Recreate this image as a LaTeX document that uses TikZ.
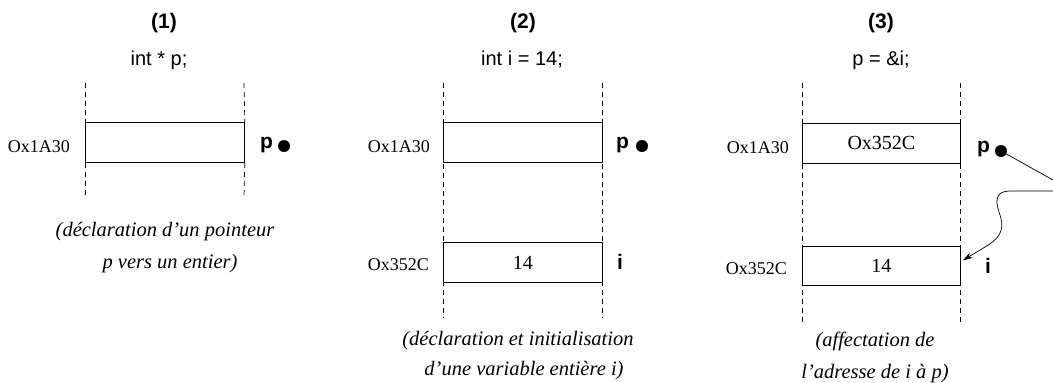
\documentclass[tikz,border=0pt]{standalone}
\usepackage{fontspec}
\setmainfont{Liberation Serif}
\setsansfont{Liberation Sans}
\usetikzlibrary{arrows.meta}
\begin{document}
\begin{tikzpicture}[x=1pt,y=-1pt,
 mem/.style={draw, line width=0.8pt, minimum width=159pt, minimum height=40pt, inner sep=0pt, anchor=north west, font=\fontsize{20}{24}\selectfont},
 addr/.style={inner sep=0pt, anchor=base east, font=\fontsize{18}{22}\selectfont},
 var/.style={inner sep=0pt, anchor=base west, font=\sffamily\bfseries\fontsize{21}{25}\selectfont},
 head/.style={inner sep=0pt, anchor=base, font=\sffamily\bfseries\fontsize{21}{25}\selectfont},
 code/.style={inner sep=0pt, anchor=base, font=\sffamily\fontsize{20}{24}\selectfont},
 captxt/.style={inner sep=0pt, anchor=base, font=\itshape\fontsize{20.5}{24}\selectfont},
 guide/.style={dash pattern=on 5pt off 4pt, line width=0.7pt},
 dot/.style={circle, fill, draw, inner sep=0pt, minimum size=11.5pt},
 link/.style={line width=0.7pt, -{Stealth[length=10pt,width=6pt]}},
]
\useasboundingbox (0,0) rectangle (1053,383);
\clip (0,0) rectangle (1053,383);

% ---------- panel 1
\node[head] (h1) at (164,28) {(1)};
\node[code] (c1) at (159,65) {int * p;};
\coordinate (g1a) at (85,83);
\coordinate (g1b) at (244,83);
\coordinate (g1c) at (85,198);
\coordinate (g1d) at (244,198);
\node[mem] (b1) at (85,122) {};
\draw[guide] (g1a) -- (b1.north west);
\draw[guide] (g1b) -- (b1.north east);
\draw[guide] (b1.south west) -- (g1c);
\draw[guide] (b1.south east) -- (g1d);
\node[addr] (a1) at (70,152) {Ox1A30};
\node[var] (p1) at (260,148) {p};
\node[dot] (d1) at (284,146) {};
\node[captxt] (k1a) at (165,236) {(déclaration d’un pointeur};
\node[captxt] (k1b) at (170,268) {p vers un entier)};

% ---------- panel 2
\node[head] (h2) at (523,28) {(2)};
\node[code] (c2) at (522,65) {int i = 14;};
\coordinate (g2a) at (443,83);
\coordinate (g2b) at (602,83);
\coordinate (g2c) at (443,318);
\coordinate (g2d) at (602,318);
\draw[guide] (g2a) -- (g2c);
\draw[guide] (g2b) -- (g2d);
\node[mem] (b21) at (443,122) {};
\node[mem] (b22) at (443,242) {14};
\node[addr] (a21) at (430,152) {Ox1A30};
\node[addr] (a22) at (429,270) {Ox352C};
\node[var] (p2) at (616,148) {p};
\node[dot] (d2) at (642,146) {};
\node[var] (i2) at (617,269) {i};
\node[captxt] (k2a) at (518,345) {(déclaration et initialisation};
\node[captxt] (k2b) at (524,375) {d’une variable entière i)};

% ---------- panel 3
\node[head] (h3) at (881,28) {(3)};
\node[code] (c3) at (881,65) {p = \&i;};
\coordinate (g3a) at (802,83);
\coordinate (g3b) at (960,83);
\coordinate (g3c) at (802,322);
\coordinate (g3d) at (960,322);
\draw[guide] (g3a) -- (g3c);
\draw[guide] (g3b) -- (g3d);
\node[mem, minimum width=158pt] (b31) at (802,123) {Ox352C};
\node[mem, minimum width=158pt, minimum height=39pt] (b32) at (802,246) {14};
\node[addr] (a31) at (789,153) {Ox1A30};
\node[addr] (a32) at (787,274) {Ox352C};
\node[var] (p3) at (977,152) {p};
\node[var] (i3) at (985,273) {i};
\node[captxt] (k3a) at (875,346) {(affectation de};
\node[captxt] (k3b) at (875,378) {l’adresse de i à p)};
\draw[link] (1001,151) -- (1062,185)
  .. controls (1068,188) and (1064,191) .. (1053,191)
  -- (1010,191)
  .. controls (996,191) and (995,200) .. (999,212)
  .. controls (1004,226) and (1004,236) .. (985,247)
  -- ([xshift=2pt,yshift=5.5pt]b32.east);
\node[dot] (d3) at (1001,151) {};
\end{tikzpicture}
\end{document}
